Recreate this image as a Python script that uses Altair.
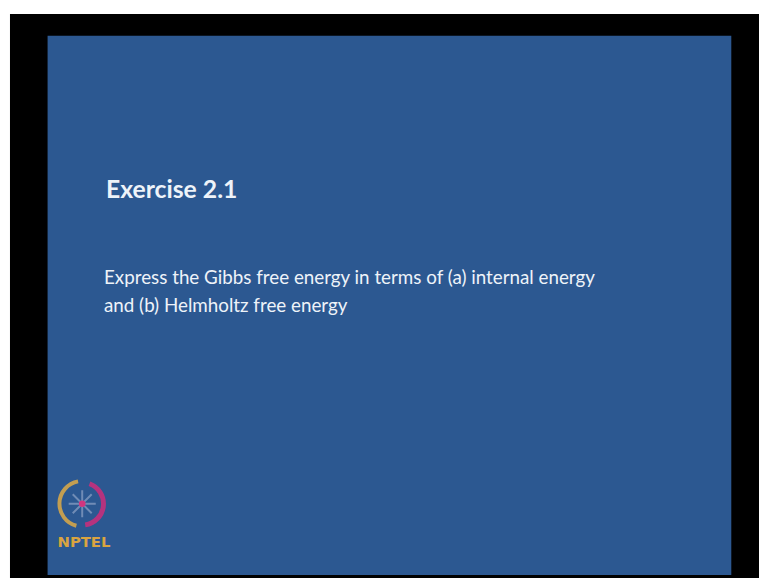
import altair as alt
import pandas as pd

title_text = ["Exercise 2.1"]
body_lines = [
    "Express the Gibbs free energy in terms of (a) internal energy",
    "and (b) Helmholtz free energy",
]
logo_text = ["NPTEL"]

one = pd.DataFrame({"k": [0]})
title_df = pd.DataFrame({"t": title_text})
body_df = pd.DataFrame({"t": ["\n".join(body_lines)]})
logo_df = pd.DataFrame({"t": logo_text})

BLUE = "#2c5891"
TEXT = "#eef3f9"

frame = alt.Chart(one).mark_rect(color="black").encode(
    x=alt.value(2), x2=alt.value(759), y=alt.value(3), y2=alt.value(573)
)
slide = alt.Chart(one).mark_rect(color=BLUE).encode(
    x=alt.value(40), x2=alt.value(731), y=alt.value(25), y2=alt.value(570)
)

title = alt.Chart(title_df).mark_text(
    font="Lato", fontWeight="bold", fontSize=25, color=TEXT,
    align="left", baseline="alphabetic"
).encode(text="t:N", x=alt.value(99), y=alt.value(189))

body = alt.Chart(body_df).mark_text(
    font="Lato", fontSize=19, color=TEXT, align="left",
    baseline="alphabetic", lineBreak="\n", lineHeight=28
).encode(text="t:N", x=alt.value(97), y=alt.value(276))

# NPTEL logo (approximation)
CX, CY = 75, 498
gold_arc = alt.Chart(one).mark_arc(color="#d4a64a", opacity=0.9).encode(
    x=alt.value(CX), y=alt.value(CY),
    theta=alt.value(3.4), theta2=alt.value(6.1),
    radius=alt.value(25), radius2=alt.value(21)
)
pink_arc = alt.Chart(one).mark_arc(color="#c4307c", opacity=0.9).encode(
    x=alt.value(CX), y=alt.value(CY),
    theta=alt.value(0.35), theta2=alt.value(3.0),
    radius=alt.value(24), radius2=alt.value(19)
)
star = alt.Chart(one).mark_point(
    shape="M0,-1L0,1M-1,0L1,0M-0.7,-0.7L0.7,0.7M-0.7,0.7L0.7,-0.7",
    color="#8ea3c6", strokeWidth=2, size=750, filled=False
).encode(x=alt.value(CX), y=alt.value(CY))
dot = alt.Chart(one).mark_point(
    shape="circle", color="#d0357f", filled=True, size=45, opacity=1
).encode(x=alt.value(CX), y=alt.value(CY))
logo = alt.Chart(logo_df).mark_text(
    font="DejaVu Sans", fontWeight="bold", fontSize=15, color="#d9a441",
    align="left", baseline="alphabetic"
).encode(text="t:N", x=alt.value(50), y=alt.value(542))

chart = alt.layer(frame, slide, title, body, gold_arc, pink_arc, star, dot, logo).properties(
    width=759, height=573, background="white", padding=0, autosize="none"
).configure_view(stroke=None)

chart.save("out.html", embed_options={"renderer": "svg", "actions": False})
